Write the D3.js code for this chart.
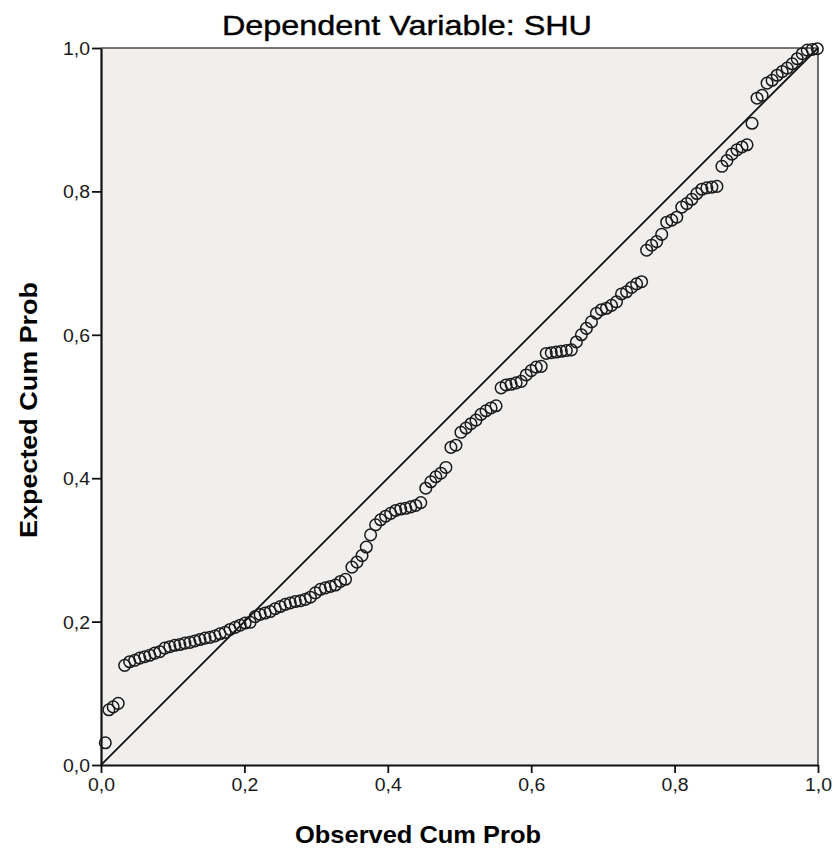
<!DOCTYPE html>
<html>
<head>
<meta charset="utf-8">
<script src="https://cdn.jsdelivr.net/npm/d3@7"></script>
<style>
  body { margin: 0; background: #fff; }
  svg { display: block; font-family: "Liberation Sans", Arial, sans-serif; }
</style>
</head>
<body>
<div id="chart"></div>
<script>
// P-P plot data: observed cum prob vs expected cum prob
const observed = [
  0.006, 0.011, 0.017, 0.024, 0.033, 0.040, 0.047, 0.054, 0.061, 0.068,
  0.075, 0.082, 0.089, 0.096, 0.103, 0.110, 0.117, 0.124, 0.131, 0.138,
  0.145, 0.152, 0.159, 0.166, 0.173, 0.180, 0.187, 0.194, 0.201, 0.208,
  0.215, 0.222, 0.229, 0.236, 0.243, 0.250, 0.257, 0.264, 0.271, 0.278,
  0.285, 0.292, 0.299, 0.306, 0.313, 0.320, 0.327, 0.334, 0.341, 0.350,
  0.357, 0.364, 0.370, 0.376, 0.383, 0.390, 0.397, 0.404, 0.411, 0.418,
  0.425, 0.432, 0.439, 0.446, 0.453, 0.460, 0.467, 0.474, 0.481, 0.488,
  0.495, 0.502, 0.509, 0.516, 0.523, 0.530, 0.537, 0.544, 0.551, 0.558,
  0.565, 0.572, 0.579, 0.586, 0.593, 0.600, 0.607, 0.614, 0.621, 0.628,
  0.635, 0.642, 0.649, 0.656, 0.663, 0.670, 0.677, 0.684, 0.691, 0.698,
  0.705, 0.712, 0.719, 0.726, 0.733, 0.740, 0.747, 0.754, 0.761, 0.768,
  0.775, 0.782, 0.789, 0.796, 0.803, 0.810, 0.817, 0.824, 0.831, 0.838,
  0.845, 0.852, 0.859, 0.866, 0.873, 0.880, 0.887, 0.894, 0.901, 0.908,
  0.915, 0.922, 0.929, 0.936, 0.943, 0.950, 0.957, 0.964, 0.971, 0.978,
  0.985, 0.992, 0.999
];
const expected = [
  0.031, 0.077, 0.081, 0.086, 0.139, 0.144, 0.146, 0.149, 0.151, 0.153,
  0.156, 0.158, 0.163, 0.165, 0.167, 0.168, 0.170, 0.171, 0.173, 0.175,
  0.177, 0.178, 0.180, 0.183, 0.185, 0.189, 0.192, 0.195, 0.198, 0.199,
  0.207, 0.210, 0.212, 0.214, 0.218, 0.221, 0.224, 0.226, 0.228, 0.229,
  0.231, 0.234, 0.240, 0.245, 0.247, 0.249, 0.251, 0.256, 0.259, 0.276,
  0.283, 0.292, 0.304, 0.321, 0.335, 0.342, 0.347, 0.351, 0.355, 0.357,
  0.358, 0.360, 0.362, 0.366, 0.386, 0.395, 0.402, 0.407, 0.415, 0.443,
  0.446, 0.464, 0.470, 0.476, 0.481, 0.489, 0.494, 0.498, 0.501, 0.526,
  0.530, 0.531, 0.533, 0.535, 0.544, 0.550, 0.555, 0.556, 0.574, 0.575,
  0.576, 0.577, 0.578, 0.579, 0.590, 0.600, 0.609, 0.618, 0.630, 0.635,
  0.637, 0.641, 0.646, 0.657, 0.660, 0.666, 0.671, 0.674, 0.718, 0.725,
  0.730, 0.740, 0.757, 0.760, 0.764, 0.778, 0.783, 0.789, 0.797, 0.803,
  0.805, 0.806, 0.807, 0.835, 0.843, 0.852, 0.858, 0.862, 0.865, 0.895,
  0.930, 0.934, 0.951, 0.955, 0.962, 0.967, 0.972, 0.978, 0.985, 0.992,
  0.997, 0.998, 0.999
];
const tickValues = [0, 0.2, 0.4, 0.6, 0.8, 1.0];
const tickLabels = ['0,0', '0,2', '0,4', '0,6', '0,8', '1,0'];
const diagonal = [[0, 0], [1, 1]];

const width = 836, height = 852;
const margin = { top: 48, right: 18, bottom: 87, left: 101 };

const svg = d3.select('#chart').append('svg')
  .attr('width', width)
  .attr('height', height);

const x = d3.scaleLinear().domain([0, 1]).range([margin.left, width - margin.right]);
const y = d3.scaleLinear().domain([0, 1]).range([height - margin.bottom, margin.top]);

// plot background
svg.append('rect')
  .attr('x', x(0)).attr('y', y(1))
  .attr('width', x(1) - x(0)).attr('height', y(0) - y(1))
  .attr('fill', '#f0efee');

// top + right frame
svg.append('path')
  .attr('d', `M${x(0)},${y(1)}H${x(1)}V${y(0)}`)
  .attr('fill', 'none')
  .attr('stroke', '#4a4a4a')
  .attr('stroke-width', 1.6);

const fmt = d => tickLabels[tickValues.indexOf(d)];

const xAxis = d3.axisBottom(x).tickValues(tickValues).tickFormat(fmt)
  .tickSize(8).tickSizeOuter(0).tickPadding(5);
const yAxis = d3.axisLeft(y).tickValues(tickValues).tickFormat(fmt)
  .tickSize(9).tickSizeOuter(0).tickPadding(2);

const gx = svg.append('g')
  .attr('transform', `translate(0,${y(0)})`)
  .call(xAxis);
const gy = svg.append('g')
  .attr('transform', `translate(${x(0)},0)`)
  .call(yAxis);

[gx, gy].forEach(g => {
  g.select('.domain').attr('stroke', '#111').attr('stroke-width', 2.2);
  g.selectAll('.tick line').attr('stroke', '#111').attr('stroke-width', 1.8);
  g.selectAll('.tick text')
    .attr('fill', '#1a1a1a')
    .style('font-size', '18px')
    .attr('textLength', 27)
    .attr('lengthAdjust', 'spacingAndGlyphs');
});
gy.selectAll('.tick text').attr('dy', '0.36em');

// reference line
svg.append('line')
  .attr('x1', x(diagonal[0][0])).attr('y1', y(diagonal[0][1]))
  .attr('x2', x(diagonal[1][0])).attr('y2', y(diagonal[1][1]))
  .attr('stroke', '#111')
  .attr('stroke-width', 1.8);

// points
svg.append('g')
  .selectAll('circle')
  .data(observed.map((d, i) => ({ obs: d, exp: expected[i] })))
  .enter().append('circle')
  .attr('cx', d => x(d.obs))
  .attr('cy', d => y(d.exp))
  .attr('r', 5.8)
  .attr('fill', 'none')
  .attr('stroke', '#1a1a1a')
  .attr('stroke-width', 1.5);

// titles
svg.append('text')
  .attr('x', 407).attr('y', 35)
  .attr('text-anchor', 'middle')
  .attr('textLength', 370)
  .attr('lengthAdjust', 'spacingAndGlyphs')
  .style('font-size', '28px')
  .style('stroke', '#000')
  .style('stroke-width', 0.4)
  .text('Dependent Variable: SHU');

svg.append('text')
  .attr('x', 418).attr('y', 843)
  .attr('text-anchor', 'middle')
  .attr('textLength', 246)
  .attr('lengthAdjust', 'spacingAndGlyphs')
  .style('font-size', '24px')
  .style('font-weight', 'bold')
  .text('Observed Cum Prob');

svg.append('text')
  .attr('transform', 'translate(37,410) rotate(-90)')
  .attr('text-anchor', 'middle')
  .attr('textLength', 256)
  .attr('lengthAdjust', 'spacingAndGlyphs')
  .style('font-size', '24px')
  .style('font-weight', 'bold')
  .text('Expected Cum Prob');
</script>
</body>
</html>
